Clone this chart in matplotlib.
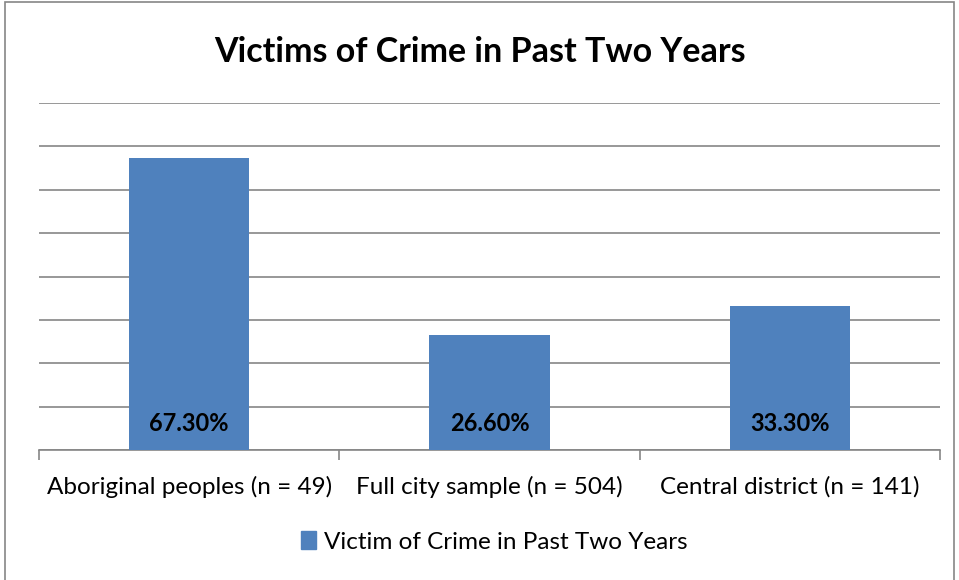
import matplotlib
matplotlib.use("Agg")
import matplotlib.pyplot as plt
from matplotlib.patches import Rectangle, Patch

plt.rcParams["font.family"] = ["Lato", "DejaVu Sans"]

categories = ["Aboriginal peoples (n = 49)", "Full city sample (n = 504)",
              "Central district (n = 141)"]
victim_pct = [67.3, 26.6, 33.3]
series_name = "Victim of Crime in Past Two Years"
bar_color = "#4F81BD"
grid_color = "#868686"

fig = plt.figure(figsize=(9.59, 5.80), dpi=100)
ax = fig.add_axes([39 / 959, 1 - 450 / 580, 901 / 959, 347 / 580])

x = list(range(len(categories)))
ax.bar(x, victim_pct, width=0.4, color=bar_color, zorder=3)
ax.set_xlim(-0.5, len(categories) - 0.5)
ax.set_ylim(0, 80)
ax.set_yticks(range(0, 81, 10))
ax.yaxis.grid(True, color=grid_color, linewidth=1.2, zorder=0)
ax.tick_params(axis="y", left=False, labelleft=False)

# category labels between boundary tick marks
ax.set_xticks([i - 0.5 for i in range(len(categories) + 1)], minor=False)
ax.set_xticklabels([])
ax.set_xticks(x, minor=True)
ax.set_xticklabels(categories, minor=True, fontsize=17.5, color="black")
ax.tick_params(axis="x", which="major", length=7, color=grid_color, width=1.2)
ax.tick_params(axis="x", which="minor", length=0, pad=19)

for side in ["left", "right", "top"]:
    ax.spines[side].set_visible(False)
ax.spines["bottom"].set_color(grid_color)
ax.spines["bottom"].set_linewidth(1.2)

for xi, v in zip(x, victim_pct):
    ax.text(xi, 6.0, f"{v:.2f}%", ha="center", va="center",
            fontsize=17, fontweight="bold", color="black", zorder=4)

fig.text(0.5, 1 - 52 / 580, "Victims of Crime in Past Two Years",
         ha="center", va="center", fontsize=24.5, fontweight="bold")

fig.legend(handles=[Patch(color=bar_color, label=series_name)],
           loc="center", bbox_to_anchor=(0.515, 1 - 542 / 580),
           frameon=False, fontsize=17.5, handlelength=0.65, handleheight=0.7,
           handletextpad=0.3)

# outer chart frame
fig.patches.append(Rectangle((5 / 959, -0.01), 949 / 959, 1 - 2 / 580 + 0.01,
                             transform=fig.transFigure, fill=False,
                             edgecolor=grid_color, linewidth=1.2))

fig.savefig("out.png", dpi=100)
